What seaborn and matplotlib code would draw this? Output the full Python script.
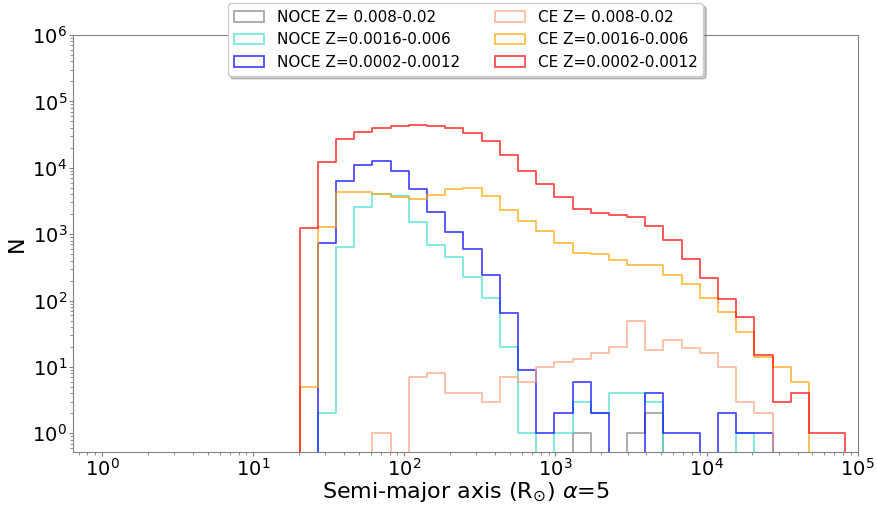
import numpy as np
import pandas as pd
import seaborn as sns
import matplotlib.pyplot as plt
from matplotlib.colors import to_rgba
from matplotlib.patches import Patch

# log10 bin edges shared by all histograms (30 bins)
log_edges = list(np.linspace(1.307, 4.919, 31))

# counts per bin
noce_hi = [0, 0, 0, 0, 0, 0, 0, 0, 0, 0, 0, 0, 0, 0, 0, 1, 0, 0, 1, 2,
           0, 0, 0, 0, 0, 0, 0, 0, 0, 0]
noce_mid = [0, 2, 650, 2590, 4070, 3750, 1540, 678, 456, 228, 111, 20, 1, 0, 1, 3, 2, 4, 4, 3,
            0, 0, 0, 0, 1, 0, 0, 0, 0, 0]
noce_lo = [0, 727, 6250, 10900, 12500, 8950, 4730, 2130, 1060, 600, 242, 64, 9, 1, 2, 6, 2, 0, 0, 4,
           1, 1, 0, 2, 1, 1, 0, 0, 0, 0]
ce_hi = [0, 0, 0, 0, 1, 0, 7, 8, 4, 4, 3, 7, 6, 10, 12, 13, 16, 20, 49, 18,
         25, 19, 16, 10, 3, 2, 0, 0, 0, 0]
ce_mid = [5, 1300, 4270, 4360, 3990, 3590, 3390, 3930, 4730, 4900, 3720, 2290, 1560, 1100, 726, 519, 496, 407, 342, 342,
          242, 175, 111, 67, 33, 14, 10, 6, 0, 0]
ce_lo = [1220, 12100, 26900, 34300, 39400, 42300, 43800, 43100, 39400, 33900, 25600, 15400, 8850, 5640, 3590, 2370, 2060, 1960, 1810, 1325,
         805, 417, 220, 107, 56, 15, 3, 4, 1, 1]

labels = ["NOCE Z= 0.008-0.02", "NOCE Z=0.0016-0.006", "NOCE Z=0.0002-0.0012",
          "CE Z= 0.008-0.02", "CE Z=0.0016-0.006", "CE Z=0.0002-0.0012"]
colors = ["grey", "turquoise", "blue", "lightsalmon", "orange", "red"]
series = [noce_hi, noce_mid, noce_lo, ce_hi, ce_mid, ce_lo]

# bin centres in data units, used with the counts as weights
le = np.array(log_edges)
centers = 10 ** ((le[:-1] + le[1:]) / 2)

sns.set_style("ticks", {"axes.edgecolor": "grey", "xtick.color": "grey", "ytick.color": "grey",
                        "axes.labelcolor": "black", "text.color": "black"})
plt.rcParams["font.family"] = ["DejaVu Sans"]
plt.rcParams["xtick.labelcolor"] = "black"
plt.rcParams["ytick.labelcolor"] = "black"

fig, ax = plt.subplots(figsize=(8.77, 5.08), dpi=100)
fig.subplots_adjust(left=0.0836, right=0.978, top=0.931, bottom=0.110)

handles = []
for lab, col, counts in zip(labels, colors, series):
    df = pd.DataFrame({"a": centers, "n": counts})
    sns.histplot(data=df, x="a", weights="n", bins=log_edges, log_scale=True,
                 element="step", fill=True, color=col, facecolor="none",
                 edgecolor=to_rgba(col, 0.7), linewidth=1.3, ax=ax)
    handles.append(Patch(facecolor="none", edgecolor=to_rgba(col, 0.7), linewidth=1.3, label=lab))

ax.set_yscale("log")
ax.set_xticks(10.0 ** np.arange(0, 6))
ax.set_yticks(10.0 ** np.arange(0, 7))
ax.set_xlim(10 ** -0.19, 1e5)
ax.set_ylim(0.52, 1e6)
ax.tick_params(axis="both", which="major", labelsize=14, length=3, pad=1.5)
ax.tick_params(axis="both", which="minor", length=2)
for s in ax.spines.values():
    s.set_visible(True)
ax.set_xlabel(r"Semi-major axis (R$_{\odot}$) $\alpha$=5", fontsize=16, labelpad=0)
ax.set_ylabel("N", fontsize=16, labelpad=4)

ax.legend(handles=handles, loc="upper center", bbox_to_anchor=(0.5, 1.094), ncol=2,
          fontsize=11, columnspacing=2.3, shadow={"alpha": 0.3}, framealpha=1)

fig.savefig("out.png", dpi=100)
